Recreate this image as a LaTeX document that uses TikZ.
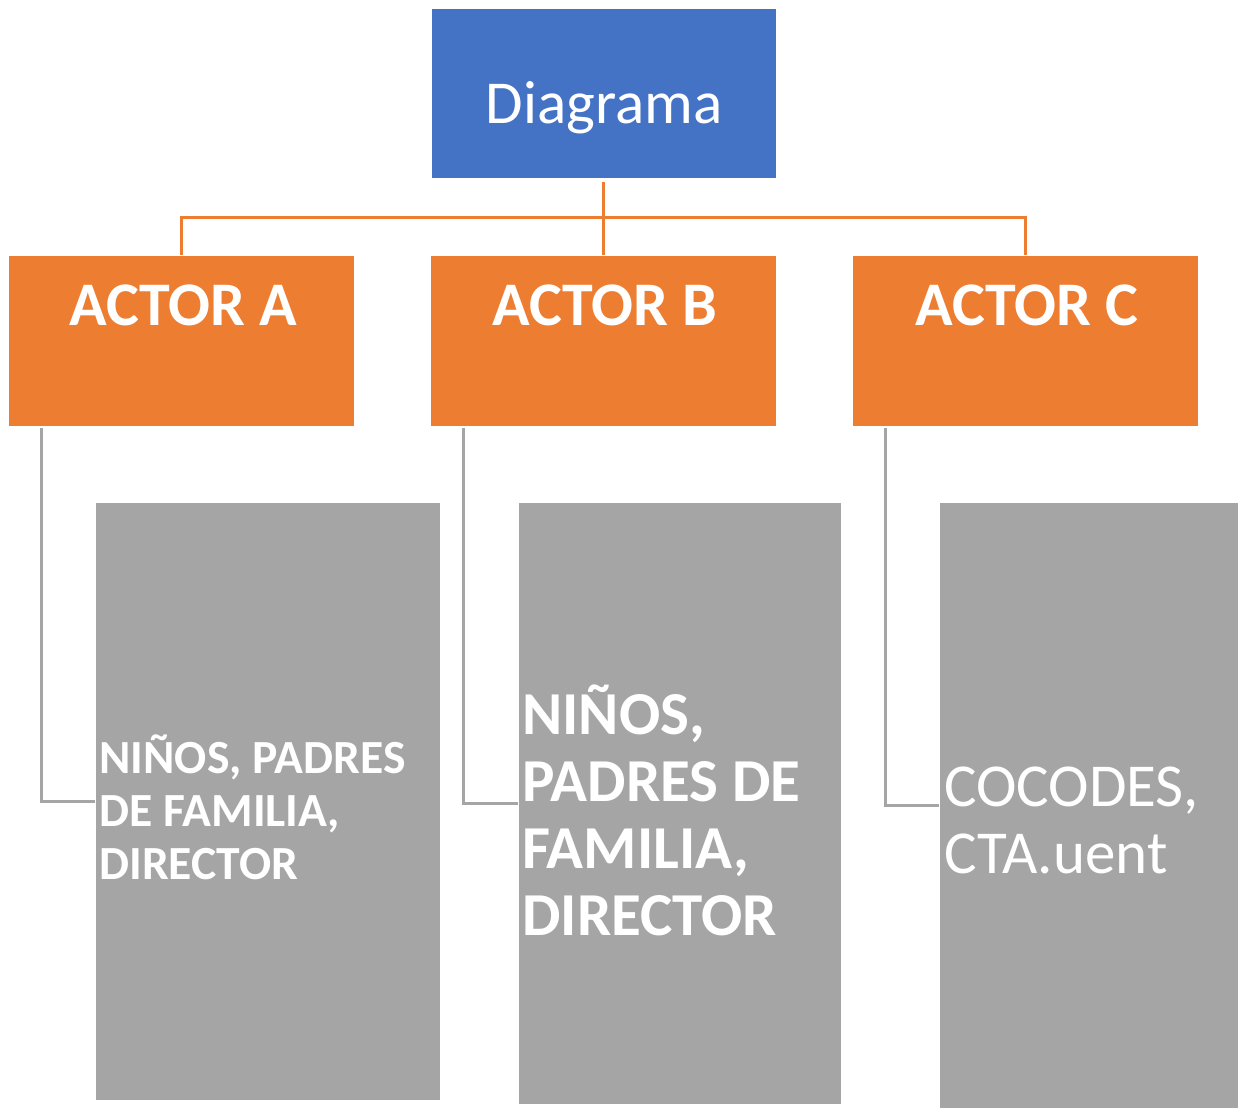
\documentclass[tikz,border=0pt]{standalone}
\usepackage{fontspec}
\setmainfont{Carlito}
\definecolor{azul}{HTML}{4472C4}
\definecolor{naranja}{HTML}{ED7D31}
\definecolor{gris}{HTML}{A5A5A5}
\tikzset{
	caja/.style={draw=white, line width=0.4pt, inner sep=0pt},
	actortxt/.style={anchor=base, white, inner sep=0pt, font=\bfseries\fontsize{31}{36}\selectfont},
	grupotxt/.style={anchor=base west, white, inner sep=0pt, align=left},
	lineanar/.style={naranja, line width=1.5pt},
	lineagris/.style={gris, line width=1.5pt}
}
\begin{document}
\begin{tikzpicture}[x=0.5pt,y=-0.5pt]
		\useasboundingbox (0,0) rectangle (1238,1108);
		%Diagrama
		\node[caja, fill=azul, minimum width=172.5pt, minimum height=85pt] (diag) at (603.5,93) {};
		\node[anchor=base, white, inner sep=0pt, font=\fontsize{30.5}{36}\selectfont] (diagtxt) at (604,123) {Diagrama};
		%Actores
		\node[caja, fill=naranja, minimum width=173pt, minimum height=85.5pt] (actA) at (181,340.5) {};
		\node[caja, fill=naranja, minimum width=173pt, minimum height=85.5pt] (actB) at (603.5,340.5) {};
		\node[caja, fill=naranja, minimum width=173pt, minimum height=85.5pt] (actC) at (1025.5,340.5) {};
		\node[actortxt] (actAtxt) at (183,325) {ACTOR A};
		\node[actortxt] (actBtxt) at (605,325) {ACTOR B};
		\node[actortxt] (actCtxt) at (1027,325) {ACTOR C};
		%ramas
		\coordinate (rama) at (603.5,217);
		\draw[lineanar, shorten <=2pt] (diag.south) -- (rama);
		\draw[lineanar] (actA.north) |- (rama) -| (actC.north);
		\draw[lineanar] (rama) -- (actB.north);
		%grupos
		\node[caja, fill=gris, minimum width=172.5pt, minimum height=299pt] (memA) at (267.5,801) {};
		\node[caja, fill=gris, minimum width=161.5pt, minimum height=301pt] (memB) at (679.5,803) {};
		\node[caja, fill=gris, minimum width=149.5pt, minimum height=303pt] (memC) at (1088.5,805) {};
		\node[grupotxt, font=\bfseries\fontsize{23.8}{26.5}\selectfont] (memAtxt) at (99,879) {NIÑOS, PADRES\\DE FAMILIA,\\DIRECTOR};
		\node[grupotxt, font=\bfseries\fontsize{30.5}{33.5}\selectfont] (memBtxt) at (522,935) {NIÑOS,\\PADRES DE\\FAMILIA,\\DIRECTOR};
		\node[grupotxt, font=\fontsize{30.5}{33.5}\selectfont] (memCtxt) at (944,873) {COCODES,\\CTA.uent};
		\draw[lineagris] ([xshift=17pt,yshift=-1pt]actA.south west) |- (memA.west);
		\draw[lineagris] ([xshift=16.5pt,yshift=-1pt]actB.south west) |- (memB.west);
		\draw[lineagris] ([xshift=16.5pt,yshift=-1pt]actC.south west) |- (memC.west);
	\end{tikzpicture}
\end{document}
